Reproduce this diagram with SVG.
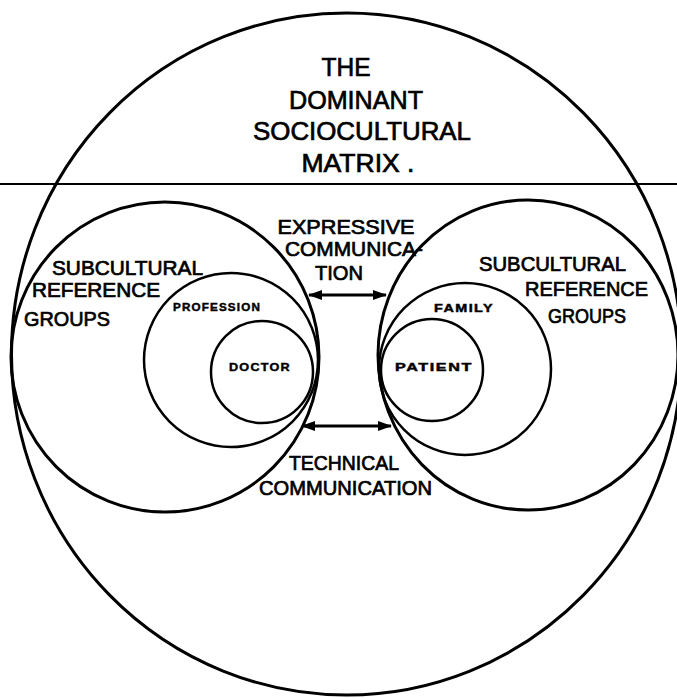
<svg xmlns="http://www.w3.org/2000/svg" width="677" height="698" viewBox="0 0 677 698">
  <style>
    .ring { fill: none; stroke: #000; }
    .thick { stroke-width: 3; }
    .mid { stroke-width: 2.5; }
    .lbl { font-family: "Liberation Sans", Arial, sans-serif; fill: #000; stroke: #000; stroke-width: 0.7; text-anchor: middle; }
    .big { font-size: 26px; }
    .med { font-size: 20px; }
    .small { font-size: 10px; font-weight: bold; letter-spacing: 1px; stroke-width: 0.4; }
    .conn { stroke: #000; stroke-width: 3; fill: none; marker-start: url(#ah); marker-end: url(#ah); }
  </style>
  <defs>
    <marker id="ah" viewBox="0 0 14 10" refX="13" refY="5" markerWidth="14" markerHeight="10" markerUnits="userSpaceOnUse" orient="auto-start-reverse">
      <path d="M0,0 L14,5 L0,10 Z" fill="#000"/>
    </marker>
  </defs>
  <rect width="677" height="698" fill="#fff"/>

  <g id="matrix">
    <ellipse class="ring thick" cx="346.5" cy="354" rx="335" ry="341"/>
    <line x1="0" y1="184" x2="677" y2="184" stroke="#000" stroke-width="2"/>
    <text class="lbl big" x="346" y="76" textLength="49" lengthAdjust="spacingAndGlyphs">THE</text>
    <text class="lbl big" x="356" y="109" textLength="134" lengthAdjust="spacingAndGlyphs">DOMINANT</text>
    <text class="lbl big" x="362" y="140" textLength="218" lengthAdjust="spacingAndGlyphs">SOCIOCULTURAL</text>
    <text class="lbl big" x="358" y="172" textLength="113" lengthAdjust="spacingAndGlyphs">MATRIX .</text>
  </g>

  <g id="left-subcultural">
    <ellipse class="ring thick" cx="165" cy="357" rx="154" ry="155"/>
    <text class="lbl med" x="127.5" y="275" textLength="151" lengthAdjust="spacingAndGlyphs">SUBCULTURAL</text>
    <text class="lbl med" x="96" y="297" textLength="128" lengthAdjust="spacingAndGlyphs">REFERENCE</text>
    <text class="lbl med" x="67" y="326" textLength="86" lengthAdjust="spacingAndGlyphs">GROUPS</text>
  </g>

  <g id="profession">
    <circle class="ring mid" cx="231" cy="360" r="87"/>
    <text class="lbl small" x="217" y="311" textLength="88" lengthAdjust="spacingAndGlyphs">PROFESSION</text>
  </g>

  <g id="doctor">
    <circle class="ring mid" cx="262" cy="372" r="51"/>
    <text class="lbl small" x="260" y="371" textLength="62" lengthAdjust="spacingAndGlyphs">DOCTOR</text>
  </g>

  <g id="right-subcultural">
    <ellipse class="ring thick" cx="528" cy="355" rx="150" ry="155"/>
    <text class="lbl med" x="552.5" y="271" textLength="147" lengthAdjust="spacingAndGlyphs">SUBCULTURAL</text>
    <text class="lbl med" x="586.5" y="296" textLength="123" lengthAdjust="spacingAndGlyphs">REFERENCE</text>
    <text class="lbl med" x="587" y="323" textLength="78" lengthAdjust="spacingAndGlyphs">GROUPS</text>
  </g>

  <g id="family">
    <circle class="ring mid" cx="465" cy="369" r="86"/>
    <text class="lbl small" x="464" y="312" textLength="60" lengthAdjust="spacingAndGlyphs">FAMILY</text>
  </g>

  <g id="patient">
    <circle class="ring mid" cx="432" cy="370" r="51"/>
    <text class="lbl small" x="434" y="371" textLength="78" lengthAdjust="spacingAndGlyphs">PATIENT</text>
  </g>

  <g id="connectors">
    <line class="conn" x1="309" y1="295" x2="386" y2="295"/>
    <line class="conn" x1="302" y1="426" x2="391" y2="426"/>
  </g>

  <g id="connector-labels">
    <text class="lbl med" x="346" y="234" textLength="137" lengthAdjust="spacingAndGlyphs">EXPRESSIVE</text>
    <text class="lbl med" x="354" y="256" textLength="138" lengthAdjust="spacingAndGlyphs">COMMUNICA-</text>
    <text class="lbl med" x="339" y="280" textLength="48" lengthAdjust="spacingAndGlyphs">TION</text>
    <text class="lbl med" x="344" y="470" textLength="110" lengthAdjust="spacingAndGlyphs">TECHNICAL</text>
    <text class="lbl med" x="345.5" y="495" textLength="173" lengthAdjust="spacingAndGlyphs">COMMUNICATION</text>
  </g>
</svg>
